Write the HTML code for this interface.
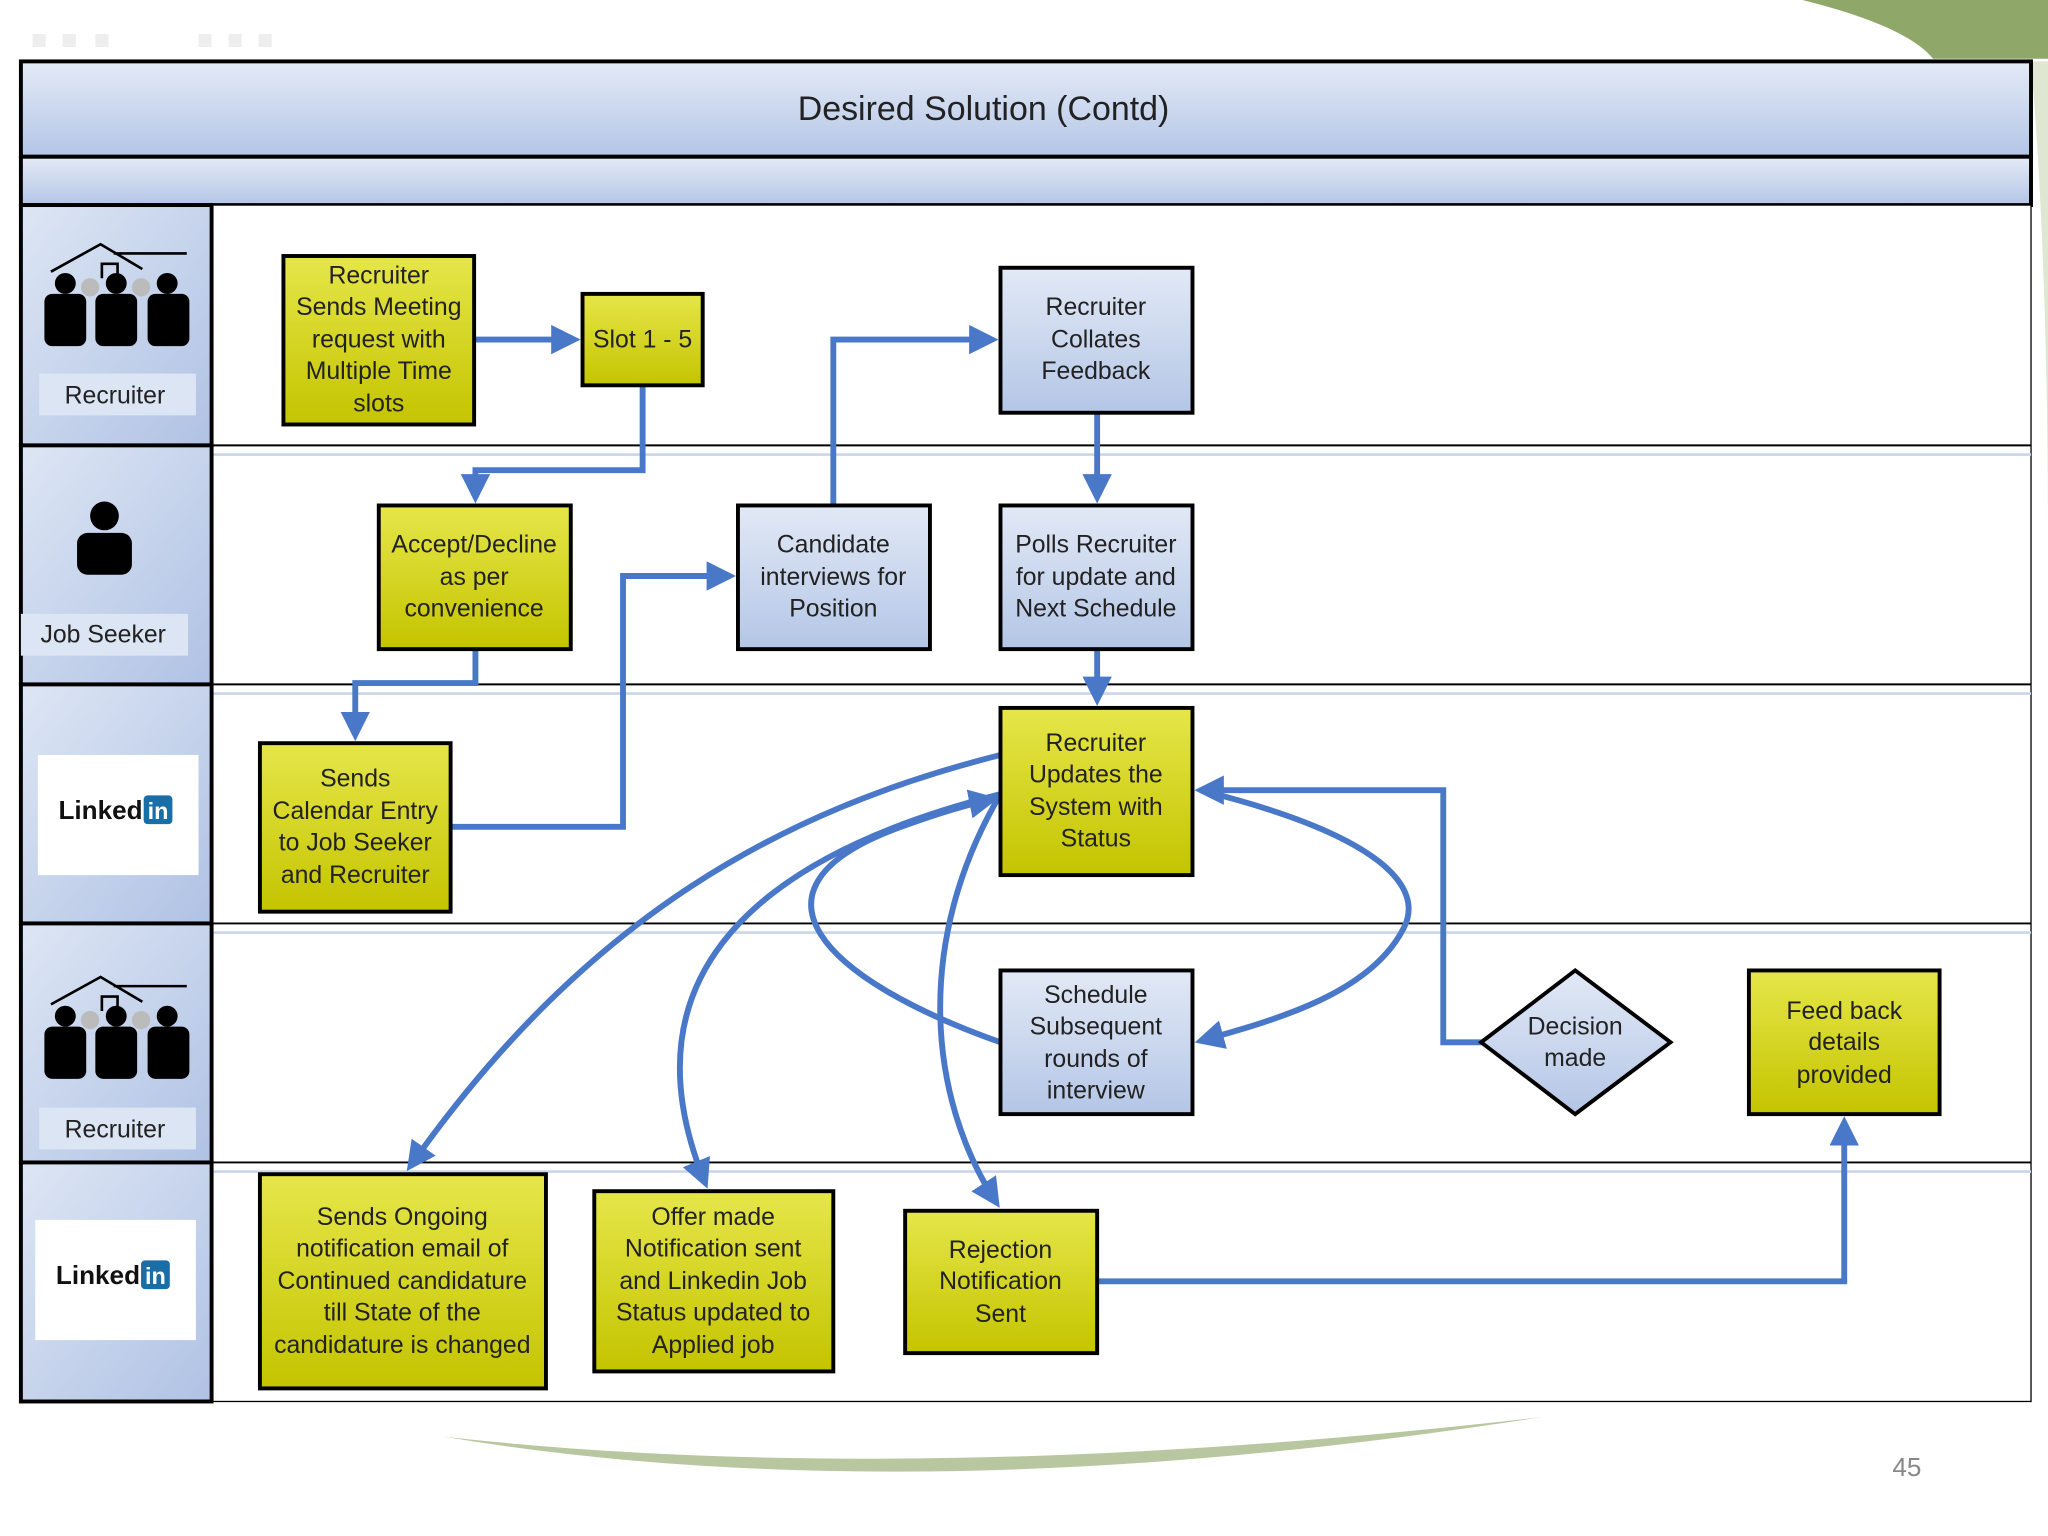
<!DOCTYPE html>
<html><head><meta charset="utf-8"><style>
html,body{margin:0;padding:0;background:#fff;}
svg{display:block;}
text{font-family:"Liberation Sans",sans-serif;fill:#222;}
</style></head><body>
<svg width="2048" height="1536" viewBox="0 0 1568 1176" xmlns="http://www.w3.org/2000/svg">
<defs>
<linearGradient id="hdr" x1="0" y1="0" x2="0" y2="1"><stop offset="0" stop-color="#e4ebf6"/><stop offset="1" stop-color="#b3c5e6"/></linearGradient>
<linearGradient id="lane" x1="0" y1="0" x2="1" y2="1"><stop offset="0" stop-color="#dde6f4"/><stop offset="1" stop-color="#b0c2e4"/></linearGradient>
<linearGradient id="yel" x1="0" y1="0" x2="0" y2="1"><stop offset="0" stop-color="#e6e64a"/><stop offset="1" stop-color="#c4c400"/></linearGradient>
<linearGradient id="blu" x1="0" y1="0" x2="0" y2="1"><stop offset="0" stop-color="#e2e9f6"/><stop offset="1" stop-color="#b4c6e6"/></linearGradient>
<marker id="ar" viewBox="0 0 10 10" refX="8" refY="5" markerWidth="5" markerHeight="5" orient="auto"><path d="M0,0 L10,5 L0,10 z" fill="#4a78c8"/></marker>
<g id="people">
<path d="M-50,-34 L-12,-55 L20,-36 M-2,-48 L54,-48" stroke="#000" stroke-width="2" fill="none"/>
<path d="M-11,-29 V-40 H1 V-29" stroke="#000" stroke-width="2" fill="none"/>
<circle cx="-20" cy="-22" r="7" fill="#bbb"/><circle cx="19" cy="-22" r="7" fill="#bbb"/>
<circle cx="-39" cy="-25" r="8" fill="#000"/><rect x="-55" y="-17" width="32" height="40" rx="6" fill="#000"/>
<circle cx="0" cy="-25" r="8" fill="#000"/><rect x="-16" y="-17" width="32" height="40" rx="6" fill="#000"/>
<circle cx="39" cy="-25" r="8" fill="#000"/><rect x="24" y="-17" width="32" height="40" rx="6" fill="#000"/>
</g>
</defs>
<!-- decorations -->
<path d="M1380,0 Q1460,20 1480,45 L1568,45 L1568,0 Z" fill="#8fa86a"/>
<path d="M1555,47 Q1568,200 1568,420 L1568,47 Z" fill="#dfe6d2"/>
<path d="M340,1100 Q700,1160 1180,1085 Q700,1140 340,1100 Z" fill="#b8c7a0"/>
<g fill="#eee"><rect x="25" y="26" width="10" height="10"/><rect x="48" y="26" width="10" height="10"/><rect x="73" y="26" width="10" height="10"/><rect x="152" y="26" width="10" height="10"/><rect x="175" y="26" width="10" height="10"/><rect x="198" y="26" width="10" height="10"/></g>
<text x="1460" y="1130" font-size="20" fill="#888" text-anchor="middle" style="fill:#888">45</text>
<!-- header -->
<rect x="16" y="47" width="1539" height="73" fill="url(#hdr)" stroke="#000" stroke-width="3"/>
<text x="753" y="92" font-size="26" text-anchor="middle">Desired Solution (Contd)</text>
<rect x="16" y="120" width="1539" height="37" fill="url(#hdr)" stroke="#000" stroke-width="3"/>
<!-- lanes right area -->
<rect x="162" y="157" width="1393" height="916" fill="#fff" stroke="#000" stroke-width="1"/>
<g stroke="#000" stroke-width="1.5"><line x1="162" y1="341" x2="1555" y2="341"/><line x1="162" y1="524" x2="1555" y2="524"/><line x1="162" y1="707" x2="1555" y2="707"/><line x1="162" y1="890" x2="1555" y2="890"/></g>
<g stroke="#c9d5ea" stroke-width="2"><line x1="162" y1="348" x2="1555" y2="348"/><line x1="162" y1="531" x2="1555" y2="531"/><line x1="162" y1="714" x2="1555" y2="714"/><line x1="162" y1="897" x2="1555" y2="897"/></g>
<!-- lane headers -->
<g stroke="#000" stroke-width="3">
<rect x="16" y="157" width="146" height="184" fill="url(#lane)"/>
<rect x="16" y="341" width="146" height="183" fill="url(#lane)"/>
<rect x="16" y="524" width="146" height="183" fill="url(#lane)"/>
<rect x="16" y="707" width="146" height="183" fill="url(#lane)"/>
<rect x="16" y="890" width="146" height="183" fill="url(#lane)"/>
</g>
<use href="#people" x="89" y="242"/>
<rect x="30" y="286" width="120" height="32" fill="#dce5f3"/>
<text x="88" y="309" font-size="19" text-anchor="middle">Recruiter</text>
<circle cx="80" cy="395" r="11" fill="#000"/><rect x="59" y="408" width="42" height="32" rx="8" fill="#000"/>
<rect x="16" y="470" width="128" height="32" fill="#dce5f3"/>
<text x="79" y="492" font-size="19" text-anchor="middle">Job Seeker</text>
<rect x="29" y="578" width="123" height="92" fill="#fff"/>
<text x="77" y="627" font-size="20" font-weight="bold" text-anchor="middle" style="fill:#111">Linked</text>
<rect x="110" y="609" width="22" height="22" rx="3" fill="#1a6ea8"/><text x="121" y="627" font-size="18" font-weight="bold" text-anchor="middle" style="fill:#fff">in</text>
<use href="#people" x="89" y="803"/>
<rect x="30" y="848" width="120" height="32" fill="#dce5f3"/>
<text x="88" y="871" font-size="19" text-anchor="middle">Recruiter</text>
<rect x="27" y="934" width="123" height="92" fill="#fff"/>
<text x="75" y="983" font-size="20" font-weight="bold" text-anchor="middle" style="fill:#111">Linked</text>
<rect x="108" y="965" width="22" height="22" rx="3" fill="#1a6ea8"/><text x="119" y="983" font-size="18" font-weight="bold" text-anchor="middle" style="fill:#fff">in</text>
<!-- connectors -->
<g stroke="#4a78c8" stroke-width="4.5" fill="none" marker-end="url(#ar)">
<path d="M363,260 H440"/>
<path d="M492,295 V360 H364 V381"/>
<path d="M638,387 V260 H760"/>
<path d="M840,316 V381"/>
<path d="M364,497 V523 H272 V563"/>
<path d="M345,633 H477 V441 H559"/>
<path d="M840,497 V536"/>
<path d="M1135,798 H1105 V605 H919"/>
<path d="M840,981 H1412 V859"/>
<path d="M766,578 C600,620 450,700 314,893"/>
<path d="M766,608 C560,660 480,760 540,906"/>
<path d="M766,608 C700,720 710,840 763,921"/>
<path d="M766,798 C630,750 560,680 690,633 C720,622 745,615 760,612"/>
<path d="M919,605 C1060,640 1090,680 1075,710 C1050,760 980,780 919,797"/>
</g>
<!-- nodes -->
<g stroke="#000" stroke-width="3">
<rect x="217" y="196" width="146" height="129" fill="url(#yel)"/>
<rect x="446" y="225" width="92" height="70" fill="url(#yel)"/>
<rect x="766" y="205" width="147" height="111" fill="url(#blu)"/>
<rect x="290" y="387" width="147" height="110" fill="url(#yel)"/>
<rect x="565" y="387" width="147" height="110" fill="url(#blu)"/>
<rect x="766" y="387" width="147" height="110" fill="url(#blu)"/>
<rect x="199" y="569" width="146" height="129" fill="url(#yel)"/>
<rect x="766" y="542" width="147" height="128" fill="url(#yel)"/>
<rect x="766" y="743" width="147" height="110" fill="url(#blu)"/>
<path d="M1206,743 L1279,798 L1206,853 L1134,798 Z" fill="url(#blu)"/>
<rect x="1339" y="743" width="146" height="110" fill="url(#yel)"/>
<rect x="199" y="899" width="219" height="164" fill="url(#yel)"/>
<rect x="455" y="912" width="183" height="138" fill="url(#yel)"/>
<rect x="693" y="927" width="147" height="109" fill="url(#yel)"/>
</g>
<g font-size="19" text-anchor="middle">
<text x="290" y="217">Recruiter</text><text x="290" y="241">Sends Meeting</text><text x="290" y="266">request with</text><text x="290" y="290">Multiple Time</text><text x="290" y="315">slots</text>
<text x="492" y="266">Slot 1 - 5</text>
<text x="839" y="241">Recruiter</text><text x="839" y="266">Collates</text><text x="839" y="290">Feedback</text>
<text x="363" y="423">Accept/Decline</text><text x="363" y="448">as per</text><text x="363" y="472">convenience</text>
<text x="638" y="423">Candidate</text><text x="638" y="448">interviews for</text><text x="638" y="472">Position</text>
<text x="839" y="423">Polls Recruiter</text><text x="839" y="448">for update and</text><text x="839" y="472">Next Schedule</text>
<text x="272" y="602">Sends</text><text x="272" y="627">Calendar Entry</text><text x="272" y="651">to Job Seeker</text><text x="272" y="676">and Recruiter</text>
<text x="839" y="575">Recruiter</text><text x="839" y="599">Updates the</text><text x="839" y="624">System with</text><text x="839" y="648">Status</text>
<text x="839" y="768">Schedule</text><text x="839" y="792">Subsequent</text><text x="839" y="817">rounds of</text><text x="839" y="841">interview</text>
<text x="1206" y="792">Decision</text><text x="1206" y="816">made</text>
<text x="1412" y="780">Feed back</text><text x="1412" y="804">details</text><text x="1412" y="829">provided</text>
<text x="308" y="938">Sends Ongoing</text><text x="308" y="962">notification email of</text><text x="308" y="987">Continued candidature</text><text x="308" y="1011">till State of the</text><text x="308" y="1036">candidature is changed</text>
<text x="546" y="938">Offer made</text><text x="546" y="962">Notification sent</text><text x="546" y="987">and Linkedin Job</text><text x="546" y="1011">Status updated to</text><text x="546" y="1036">Applied job</text>
<text x="766" y="963">Rejection</text><text x="766" y="987">Notification</text><text x="766" y="1012">Sent</text>
</g>
</svg>
</body></html>
